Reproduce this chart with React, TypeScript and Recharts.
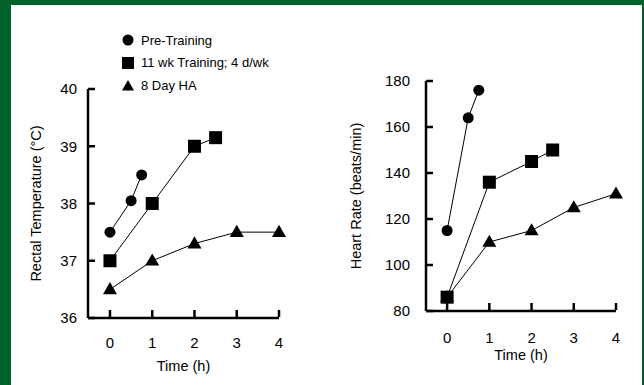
import React from 'react'
import { LineChart, Line, XAxis, YAxis } from 'recharts'

// rectal temperature (°C) vs time (h)
const tempPre = [
  { t: 0, v: 37.5 },
  { t: 0.5, v: 38.05 },
  { t: 0.75, v: 38.5 },
]
const tempTrained = [
  { t: 0, v: 37.0 },
  { t: 1, v: 38.0 },
  { t: 2, v: 39.0 },
  { t: 2.5, v: 39.15 },
]
const tempHA = [
  { t: 0, v: 36.5 },
  { t: 1, v: 37.0 },
  { t: 2, v: 37.3 },
  { t: 3, v: 37.5 },
  { t: 4, v: 37.5 },
]

// heart rate (beats/min) vs time (h)
const hrPre = [
  { t: 0, v: 115 },
  { t: 0.5, v: 164 },
  { t: 0.75, v: 176 },
]
const hrTrained = [
  { t: 0, v: 86 },
  { t: 1, v: 136 },
  { t: 2, v: 145 },
  { t: 2.5, v: 150 },
]
const hrHA = [
  { t: 0, v: 86 },
  { t: 1, v: 110 },
  { t: 2, v: 115 },
  { t: 3, v: 125 },
  { t: 4, v: 131 },
]

const timeTicks = [0, 1, 2, 3, 4]
const tempTicks = [36, 37, 38, 39, 40]
const hrTicks = [80, 100, 120, 140, 160, 180]

const legendItems = [
  { name: 'Pre-Training', shape: 'circle' },
  { name: '11 wk Training; 4 d/wk', shape: 'square' },
  { name: '8 Day HA', shape: 'triangle' },
]

const FONT = '"Liberation Sans", Arial, Helvetica, sans-serif'
const GREEN = '#006229'
const TICK_LEN = 7

type DotProps = { cx?: number; cy?: number; index?: number }

const circleDot = (r: number) => (p: DotProps) =>
  p.cx == null || p.cy == null ? <g key={p.index} /> : <circle key={p.index} cx={p.cx} cy={p.cy} r={r} fill="#000" />

const squareDot = (s: number) => (p: DotProps) =>
  p.cx == null || p.cy == null ? (
    <g key={p.index} />
  ) : (
    <rect key={p.index} x={p.cx - s / 2} y={p.cy - s / 2} width={s} height={s} fill="#000" />
  )

const triangleDot = (s: number) => (p: DotProps) => {
  if (p.cx == null || p.cy == null) return <g key={p.index} />
  const h = s * 0.87
  const pts = `${p.cx},${p.cy - h * 0.6} ${p.cx - s / 2},${p.cy + h * 0.4} ${p.cx + s / 2},${p.cy + h * 0.4}`
  return <polygon key={p.index} points={pts} fill="#000" />
}

// ticks point inward, so the tick line is drawn together with the label
const XTick = (margin: number) => (props: any) => {
  const { x, y, payload } = props
  const axisY = y - margin - 1
  return (
    <g>
      <line x1={x} x2={x} y1={axisY} y2={axisY - TICK_LEN} stroke="#000" strokeWidth={2.5} />
      <text x={x} y={y} dy="0.71em" textAnchor="middle" fill="#000" fontSize={15} fontFamily={FONT}>
        {payload.value}
      </text>
    </g>
  )
}

const YTick = (margin: number) => (props: any) => {
  const { x, y, payload } = props
  const axisX = x + margin
  return (
    <g>
      <line x1={axisX} x2={axisX + TICK_LEN} y1={y} y2={y} stroke="#000" strokeWidth={2.5} />
      <text x={x} y={y} dy="0.355em" textAnchor="end" fill="#000" fontSize={15} fontFamily={FONT}>
        {payload.value}
      </text>
    </g>
  )
}

const axisLine = { stroke: '#000', strokeWidth: 2.5 }
const labelStyle = { textAnchor: 'middle' as const, fill: '#000', fontSize: 14.5, fontFamily: FONT }

const LegendIcon = ({ shape }: { shape: string }) => (
  <svg width={12} height={12} style={{ display: 'block' }}>
    {shape === 'circle' && <circle cx={6} cy={6} r={5.5} fill="#000" />}
    {shape === 'square' && <rect x={0} y={0} width={12} height={12} fill="#000" />}
    {shape === 'triangle' && <polygon points="6,1 0,11.5 12,11.5" fill="#000" />}
  </svg>
)

const series = (pre: any[], trained: any[], ha: any[]) => [
  <Line key="pre" data={pre} dataKey="v" stroke="#000" strokeWidth={1} dot={circleDot(5.5)} isAnimationActive={false} />,
  <Line key="tr" data={trained} dataKey="v" stroke="#000" strokeWidth={1} dot={squareDot(13)} isAnimationActive={false} />,
  <Line key="ha" data={ha} dataKey="v" stroke="#000" strokeWidth={1} dot={triangleDot(14)} isAnimationActive={false} />,
]

export default function App() {
  return (
    <div
      style={{
        position: 'absolute',
        left: 0,
        top: 0,
        width: 644,
        height: 385,
        background: GREEN,
        overflow: 'hidden',
      }}
    >
      <div style={{ position: 'absolute', left: 11, top: 5, width: 631, height: 385, background: '#fff' }} />

      <div style={{ position: 'absolute', left: 0, top: 0 }}>
        <LineChart width={330} height={385} margin={{ top: 89, right: 51, bottom: 17, left: 16 }}>
          <XAxis
            type="number"
            dataKey="t"
            domain={[-0.52, 4]}
            ticks={timeTicks}
            allowDuplicatedCategory={false}
            height={50}
            axisLine={axisLine}
            tickLine={false}
            tickSize={0}
            tickMargin={19}
            tick={XTick(19)}
            label={{ value: 'Time (h)', position: 'insideBottom', offset: -3, style: labelStyle }}
          />
          <YAxis
            type="number"
            domain={[36, 40]}
            ticks={tempTicks}
            width={72}
            axisLine={axisLine}
            tickLine={false}
            tickSize={0}
            tickMargin={11}
            tick={YTick(11)}
            label={{ value: 'Rectal Temperature (°C)', angle: -90, position: 'insideLeft', offset: 20, style: labelStyle }}
          />
          {series(tempPre, tempTrained, tempHA)}
        </LineChart>
      </div>

      <div style={{ position: 'absolute', left: 330, top: 0 }}>
        <LineChart width={314} height={385} margin={{ top: 81, right: 28, bottom: 24, left: 16 }}>
          <XAxis
            type="number"
            dataKey="t"
            domain={[-0.5, 4]}
            ticks={timeTicks}
            allowDuplicatedCategory={false}
            height={50}
            axisLine={axisLine}
            tickLine={false}
            tickSize={0}
            tickMargin={21}
            tick={XTick(21)}
            label={{ value: 'Time (h)', position: 'insideBottom', offset: 1, style: labelStyle }}
          />
          <YAxis
            type="number"
            domain={[80, 180]}
            ticks={hrTicks}
            width={80}
            axisLine={axisLine}
            tickLine={false}
            tickSize={0}
            tickMargin={16}
            tick={YTick(16)}
            label={{ value: 'Heart Rate (beats/min)', angle: -90, position: 'insideLeft', offset: 10, style: labelStyle }}
          />
          {series(hrPre, hrTrained, hrHA)}
        </LineChart>
      </div>

      <div style={{ position: 'absolute', left: 122, top: 29, fontFamily: FONT, fontSize: 13, color: '#000' }}>
        {legendItems.map((it) => (
          <div key={it.name} style={{ display: 'flex', alignItems: 'center', height: 22.5 }}>
            <LegendIcon shape={it.shape} />
            <span style={{ marginLeft: 7 }}>{it.name}</span>
          </div>
        ))}
      </div>
    </div>
  )
}
